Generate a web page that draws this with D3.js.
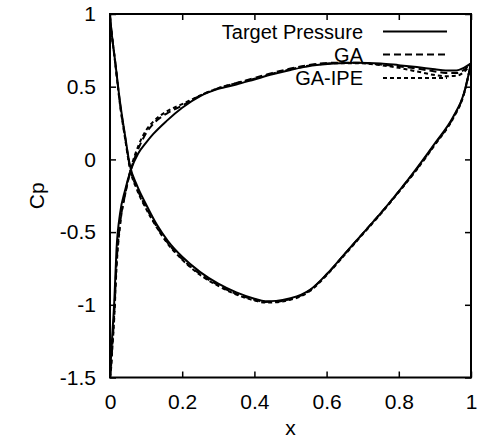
<!DOCTYPE html>
<html><head><meta charset="utf-8">
<script src="https://cdn.jsdelivr.net/npm/d3@7"></script>
<style>
body{margin:0;background:#fff;}
text{font-family:"Liberation Sans",Arial,sans-serif;fill:#000;}
</style></head>
<body><svg id="c" width="479" height="446"></svg>
<script>
// ---- data ----
const xTicks = [0, 0.2, 0.4, 0.6, 0.8, 1];
const xTickLabels = ["0", "0.2", "0.4", "0.6", "0.8", "1"];
const yTicks = [1, 0.5, 0, -0.5, -1, -1.5];
const yTickLabels = ["1", "0.5", "0", "-0.5", "-1", "-1.5"];
const seriesNames = ["Target Pressure", "GA", "GA-IPE"];

const xUpper = [0, 0.005, 0.014, 0.028, 0.042, 0.055, 0.075, 0.1, 0.13, 0.16, 0.2, 0.25, 0.3, 0.35, 0.4, 0.43, 0.46, 0.5, 0.53, 0.555, 0.6, 0.65, 0.7, 0.75, 0.8, 0.85, 0.9, 0.95, 0.98, 1.0];
const targetUpper = [0.98, 0.86, 0.68, 0.39, 0.16, -0.04, -0.18, -0.31, -0.45, -0.56, -0.67, -0.775, -0.855, -0.915, -0.958, -0.975, -0.973, -0.955, -0.93, -0.895, -0.79, -0.65, -0.51, -0.37, -0.22, -0.06, 0.11, 0.29, 0.45, 0.66];
const gaUpper = [0.98, 0.86, 0.68, 0.38, 0.15, -0.05, -0.2, -0.33, -0.465, -0.575, -0.685, -0.79, -0.865, -0.925, -0.965, -0.98, -0.978, -0.96, -0.935, -0.898, -0.792, -0.652, -0.51, -0.37, -0.22, -0.065, 0.105, 0.285, 0.45, 0.66];
const gaIpeUpper = [0.98, 0.86, 0.67, 0.37, 0.14, -0.06, -0.21, -0.34, -0.47, -0.58, -0.69, -0.795, -0.87, -0.93, -0.97, -0.985, -0.983, -0.965, -0.94, -0.903, -0.797, -0.657, -0.515, -0.375, -0.225, -0.07, 0.1, 0.28, 0.445, 0.66];

const xLower = [0, 0.003, 0.006, 0.012, 0.018, 0.028, 0.042, 0.058, 0.078, 0.1, 0.12, 0.157, 0.2, 0.25, 0.3, 0.35, 0.4, 0.45, 0.5, 0.56, 0.62, 0.68, 0.75, 0.8, 0.85, 0.9, 0.93, 0.96, 0.98, 1.0];
const targetLower = [-1.5, -1.35, -1.22, -0.97, -0.62, -0.37, -0.21, -0.07, 0.04, 0.115, 0.175, 0.265, 0.355, 0.435, 0.485, 0.515, 0.55, 0.585, 0.615, 0.645, 0.66, 0.665, 0.66, 0.648, 0.635, 0.62, 0.612, 0.612, 0.63, 0.66];
const gaLower = [-1.5, -1.42, -1.3, -1.05, -0.72, -0.44, -0.24, -0.07, 0.07, 0.18, 0.245, 0.315, 0.37, 0.44, 0.49, 0.525, 0.56, 0.595, 0.625, 0.652, 0.665, 0.665, 0.652, 0.64, 0.625, 0.605, 0.595, 0.595, 0.615, 0.66];
const gaIpeLower = [-1.5, -1.44, -1.32, -1.08, -0.75, -0.45, -0.24, -0.06, 0.09, 0.2, 0.26, 0.33, 0.38, 0.44, 0.49, 0.525, 0.555, 0.59, 0.62, 0.648, 0.662, 0.662, 0.648, 0.63, 0.605, 0.58, 0.572, 0.575, 0.6, 0.66];

// ---- chart ----
const svg = d3.select("#c");
const L = 110, R = 471, T = 14, B = 377.5;
const x = d3.scaleLinear().domain([0, 1]).range([L, R]);
const y = d3.scaleLinear().domain([-1.5, 1]).range([B, T]);
const FS = 21;
const LFS = 20;

svg.append("rect").attr("width", 479).attr("height", 446).attr("fill", "#fff");

svg.append("defs").append("clipPath").attr("id", "clip")
  .append("rect").attr("x", L).attr("y", T).attr("width", R - L).attr("height", B - T);

const styles = [
  {dash: null},
  {dash: "7,4"},
  {dash: "4,3"}
];
const seriesData = [
  [targetUpper, targetLower],
  [gaUpper, gaLower],
  [gaIpeUpper, gaIpeLower]
];
const line = d3.line().x(d => x(d[0])).y(d => y(d[1])).curve(d3.curveMonotoneX);
const g = svg.append("g").attr("clip-path", "url(#clip)");
seriesData.forEach((s, i) => {
  [[xUpper, s[0]], [xLower, s[1]]].forEach(([xs, ys]) => {
    g.append("path")
      .datum(xs.map((v, k) => [v, ys[k]]))
      .attr("d", line)
      .attr("fill", "none")
      .attr("stroke", "#000")
      .attr("stroke-width", 2)
      .attr("stroke-dasharray", styles[i].dash);
  });
});

// axes
function fmt(arr, labels) { return d => labels[arr.indexOf(d)]; }
const ax = svg.append("g").attr("transform", `translate(0,${B})`)
  .call(d3.axisBottom(x).tickValues(xTicks).tickFormat(fmt(xTicks, xTickLabels)).tickSize(-6).tickPadding(17));
const axT = svg.append("g").attr("transform", `translate(0,${T})`)
  .call(d3.axisTop(x).tickValues(xTicks).tickFormat("").tickSize(-6));
const ay = svg.append("g").attr("transform", `translate(${L},0)`)
  .call(d3.axisLeft(y).tickValues(yTicks).tickFormat(fmt(yTicks, yTickLabels)).tickSize(-6).tickPadding(14));
const ayR = svg.append("g").attr("transform", `translate(${R},0)`)
  .call(d3.axisRight(y).tickValues(yTicks).tickFormat("").tickSize(-6));
[ax, axT, ay, ayR].forEach(a => {
  a.select(".domain").remove();
  a.selectAll(".tick line").attr("stroke", "#000").attr("stroke-width", 1.5);
  a.selectAll("text").attr("font-size", FS).attr("font-family", '"Liberation Sans",Arial,sans-serif').attr("fill", "#000");
});

svg.append("rect").attr("x", L).attr("y", T).attr("width", R - L).attr("height", B - T)
  .attr("fill", "none").attr("stroke", "#000").attr("stroke-width", 2);

// axis titles
svg.append("text").attr("x", x(0.5)).attr("y", 428).attr("dy", "0.35em")
  .attr("text-anchor", "middle").attr("font-size", FS).text("x");
svg.append("text").attr("transform", `translate(37,${(T + B) / 2}) rotate(-90)`)
  .attr("dy", "0.35em").attr("text-anchor", "middle").attr("font-size", FS).text("Cp");

// legend
const legY = [31.5, 54.5, 78];
seriesNames.forEach((name, i) => {
  svg.append("text").attr("x", 363).attr("y", legY[i]).attr("dy", "0.35em")
    .attr("text-anchor", "end").attr("font-size", LFS).text(name);
  svg.append("line").attr("x1", 383).attr("x2", 447).attr("y1", legY[i]).attr("y2", legY[i])
    .attr("stroke", "#000").attr("stroke-width", 2).attr("stroke-dasharray", styles[i].dash);
});
</script></body></html>
